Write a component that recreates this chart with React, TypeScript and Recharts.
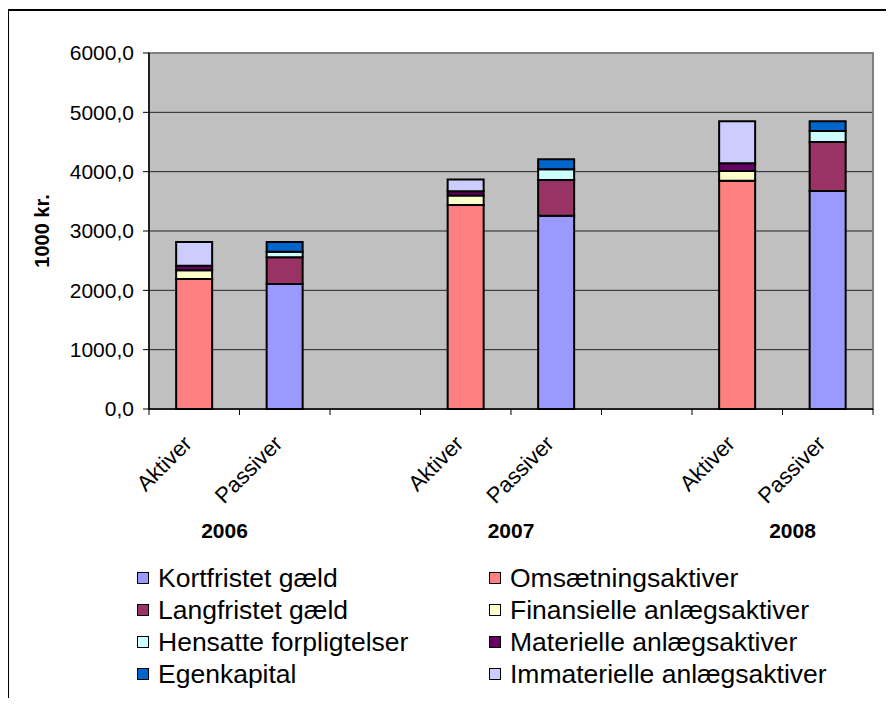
import React from "react";
import { Bar, BarChart, CartesianGrid, Legend, ReferenceArea, XAxis, YAxis } from "recharts";

// balance sheet by year, aktiver vs passiver stacked
const categories = ["Aktiver", "Passiver", "", "Aktiver", "Passiver", "", "Aktiver", "Passiver"];
const years = ["2006", "2006", "", "2007", "2007", "", "2008", "2008"];

const omsaetning = [2190, 0, 0, 3440, 0, 0, 3845, 0];
const finansielle = [150, 0, 0, 160, 0, 0, 165, 0];
const materielle = [75, 0, 0, 70, 0, 0, 130, 0];
const immaterielle = [400, 0, 0, 200, 0, 0, 710, 0];
const kortfristet = [0, 2107, 0, 0, 3258, 0, 0, 3675];
const langfristet = [0, 450, 0, 0, 602, 0, 0, 825];
const hensatte = [0, 95, 0, 0, 180, 0, 0, 185];
const egenkapital = [0, 163, 0, 0, 168, 0, 0, 165];

const yTicks = [0, 1000, 2000, 3000, 4000, 5000, 6000];

const series = [
  { key: "oms", name: "Omsætningsaktiver", color: "#FF8080", values: omsaetning },
  { key: "fin", name: "Finansielle anlægsaktiver", color: "#FFFFCC", values: finansielle },
  { key: "mat", name: "Materielle anlægsaktiver", color: "#660066", values: materielle },
  { key: "imm", name: "Immaterielle anlægsaktiver", color: "#CCCCFF", values: immaterielle },
  { key: "kort", name: "Kortfristet gæld", color: "#9999FF", values: kortfristet },
  { key: "lang", name: "Langfristet gæld", color: "#993366", values: langfristet },
  { key: "hens", name: "Hensatte forpligtelser", color: "#CCFFFF", values: hensatte },
  { key: "egen", name: "Egenkapital", color: "#0066CC", values: egenkapital },
];

// legend is two columns, row-major
const legendOrder = ["kort", "oms", "lang", "fin", "hens", "mat", "egen", "imm"];

const data = categories.map((c, i) => {
  const row: any = { slot: `${years[i]}-${c}-${i}` };
  series.forEach((s) => (row[s.key] = s.values[i]));
  return row;
});

const W = 878;
const H = 690;
const M = { top: 45, right: 13, left: 0, bottom: 149 };
const Y_W = 141;
const BAND = (W - M.left - M.right - Y_W) / categories.length;
const yearShift: Record<string, number> = { "2006": -15, "2007": 0, "2008": 10 };

const fmt = (v: number) => v.toFixed(1).replace(".", ",");

function XTick(props: any) {
  const { x, y, payload } = props;
  const i = payload.index;
  const label = categories[i];
  const half = BAND / 2;
  const lx = x - 1;
  const ly = y + 36;
  return (
    <g>
      <line x1={x - half} y1={y} x2={x - half} y2={y + 6} stroke="#000" />
      {i === categories.length - 1 && (
        <line x1={x + half} y1={y} x2={x + half} y2={y + 6} stroke="#000" />
      )}
      {label && (
        <text x={lx} y={ly} transform={`rotate(-45 ${lx} ${ly})`} textAnchor="end" fontSize={22} fill="#000">
          {label}
        </text>
      )}
      {label === "Aktiver" && (
        <text x={x + half + yearShift[years[i]]} y={y + 129} textAnchor="middle" fontSize={21} fontWeight="bold" fill="#000">
          {years[i]}
        </text>
      )}
    </g>
  );
}

function YLabel(props: any) {
  const { x, y, height } = props.viewBox;
  const cx = x + 34;
  const cy = y + height / 2;
  return (
    <text x={cx} y={cy} transform={`rotate(-90 ${cx} ${cy})`} textAnchor="middle" dominantBaseline="central" fontSize={20} fontWeight="bold" fill="#000">
      1000 kr.
    </text>
  );
}

function LegendBox() {
  return (
    <div style={{ display: "grid", gridTemplateColumns: "352px 380px", fontSize: 26.5, lineHeight: "32px", color: "#000" }}>
      {legendOrder.map((k) => {
        const s = series.find((d) => d.key === k)!;
        return (
          <div key={k} style={{ display: "flex", alignItems: "center", whiteSpace: "nowrap" }}>
            <span style={{ width: 10, height: 10, border: "1.5px solid #000", background: s.color, marginRight: 9, display: "inline-block" }} />
            {s.name}
          </div>
        );
      })}
    </div>
  );
}

export default function App() {
  return (
    <div style={{ position: "relative", width: W, height: H, fontFamily: "'Liberation Sans', Arial, sans-serif" }}>
      <div style={{ position: "absolute", left: -1, top: 1, width: 885, height: 689, borderTop: "2px solid #000", borderLeft: "2px solid #000" }} />
      <BarChart width={W} height={H} data={data} margin={M} barCategoryGap="30%">
        <CartesianGrid vertical={false} fill="#C0C0C0" stroke="#222" />
        <XAxis
          dataKey="slot"
          interval={0}
          height={140}
          tickLine={false}
          tickSize={0}
          tickMargin={0}
          axisLine={{ stroke: "#000", strokeWidth: 1.5 }}
          tick={<XTick />}
        />
        <YAxis
          width={Y_W}
          domain={[0, 6000]}
          ticks={yTicks}
          tickFormatter={fmt}
          tickSize={6}
          tickMargin={9}
          tick={{ fontSize: 21, fill: "#000" }}
          tickLine={{ stroke: "#000" }}
          axisLine={{ stroke: "#000", strokeWidth: 1.5 }}
          label={<YLabel />}
        />
        <ReferenceArea y1={0} y2={6000} fill="none" stroke="#808080" strokeWidth={2} />
        {series.map((s) => (
          <Bar key={s.key} dataKey={s.key} name={s.name} stackId="a" fill={s.color} stroke="#000" strokeWidth={2} isAnimationActive={false} />
        ))}
        <Legend
          layout="vertical"
          align="center"
          verticalAlign="middle"
          wrapperStyle={{ position: "absolute", left: 129, top: 554, width: 740 }}
          content={<LegendBox />}
        />
      </BarChart>
    </div>
  );
}
